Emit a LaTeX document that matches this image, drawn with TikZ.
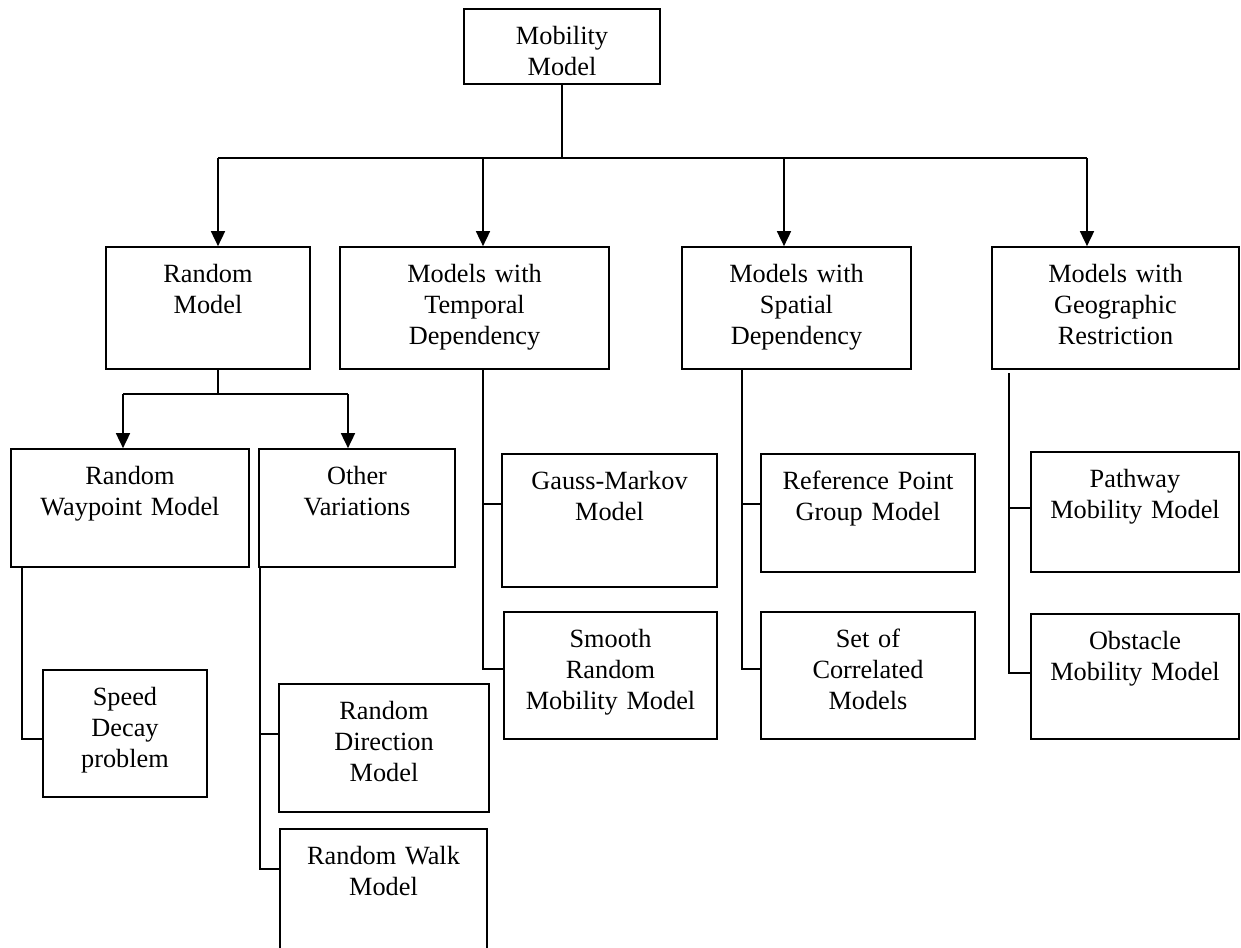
\documentclass[tikz,border=0pt]{standalone}
\usepackage{fontspec}
\setmainfont{Liberation Serif}
\usetikzlibrary{arrows.meta}
\begin{document}
\begin{tikzpicture}[x=1pt,y=-1pt,
  box/.style={draw=black, line width=1.7pt, inner sep=0pt, rectangle},
  lbl/.style={anchor=base, align=center, text width=210pt, inner sep=0pt, font=\fontsize{26.3}{31}\selectfont},
  conn/.style={line width=1.7pt},
  arr/.style={line width=1.7pt, -{Triangle[width=14pt,length=15pt]}}]
\fill[white] (0,0) rectangle (1241,947);
\useasboundingbox (0,0) rectangle (1241,947);

% boxes
\node[box, minimum width=196pt, minimum height=75pt]  (mm)  at (562,46.5) {};
\node[box, minimum width=204pt, minimum height=122pt] (rm)  at (208,308) {};
\node[box, minimum width=269pt, minimum height=122pt] (tmp) at (474.5,308) {};
\node[box, minimum width=229pt, minimum height=122pt] (spa) at (796.5,308) {};
\node[box, minimum width=247pt, minimum height=122pt] (geo) at (1115.5,308) {};
\node[box, minimum width=238pt, minimum height=118pt] (rwp) at (130,508) {};
\node[box, minimum width=196pt, minimum height=118pt] (ov)  at (357,508) {};
\node[box, minimum width=164pt, minimum height=127pt] (sd)  at (125,733.5) {};
\node[box, minimum width=210pt, minimum height=128pt] (rd)  at (384,748) {};
\node[box, minimum width=207pt, minimum height=136pt] (rw)  at (383.5,897) {};
\node[box, minimum width=215pt, minimum height=133pt] (gm)  at (609.5,520.5) {};
\node[box, minimum width=213pt, minimum height=127pt] (sr)  at (610.5,675.5) {};
\node[box, minimum width=214pt, minimum height=118pt] (rpg) at (868,513) {};
\node[box, minimum width=214pt, minimum height=127pt] (sc)  at (868,675.5) {};
\node[box, minimum width=208pt, minimum height=120pt] (pw)  at (1135,512) {};
\node[box, minimum width=208pt, minimum height=125pt] (ob)  at (1135,676.5) {};

% labels
\node[lbl] (mm-t)  at ([yshift=-36pt]mm.north)  {Mobility\\Model};
\node[lbl] (rm-t)  at ([yshift=-36pt]rm.north)  {Random\\Model};
\node[lbl] (tmp-t) at ([yshift=-36pt]tmp.north) {Models with\\Temporal\\Dependency};
\node[lbl] (spa-t) at ([yshift=-36pt]spa.north) {Models with\\Spatial\\Dependency};
\node[lbl] (geo-t) at ([yshift=-36pt]geo.north) {Models with\\Geographic\\Restriction};
\node[lbl] (rwp-t) at ([yshift=-36pt]rwp.north) {Random\\Waypoint Model};
\node[lbl] (ov-t)  at ([yshift=-36pt]ov.north)  {Other\\Variations};
\node[lbl] (sd-t)  at ([yshift=-36pt]sd.north)  {Speed\\Decay\\problem};
\node[lbl] (rd-t)  at ([yshift=-36pt]rd.north)  {Random\\Direction\\Model};
\node[lbl] (rw-t)  at ([yshift=-36pt]rw.north)  {Random Walk\\Model};
\node[lbl] (gm-t)  at ([yshift=-36pt]gm.north)  {Gauss-Markov\\Model};
\node[lbl] (sr-t)  at ([yshift=-36pt]sr.north)  {Smooth\\Random\\Mobility Model};
\node[lbl] (rpg-t) at ([yshift=-36pt]rpg.north) {Reference Point\\Group Model};
\node[lbl] (sc-t)  at ([yshift=-36pt]sc.north)  {Set of\\Correlated\\Models};
\node[lbl] (pw-t)  at ([yshift=-36pt]pw.north)  {Pathway\\Mobility Model};
\node[lbl] (ob-t)  at ([yshift=-36pt]ob.north)  {Obstacle\\Mobility Model};

% junction coordinates
\coordinate (bus) at (562,158);
\coordinate (b1) at (218,158);
\coordinate (b2) at (483,158);
\coordinate (b3) at (784,158);
\coordinate (b4) at (1087,158);
\coordinate (j1) at (218,394);
\coordinate (j1l) at (123,394);
\coordinate (j1r) at (348,394);
\coordinate (w1) at (22,739);
\coordinate (o1) at (260,734);
\coordinate (o2) at (260,869);
\coordinate (t1) at (483,504);
\coordinate (t2) at (483,669);
\coordinate (s1) at (742,504);
\coordinate (s2) at (742,669);
\coordinate (g0) at (1009,373);
\coordinate (g1) at (1009,508);
\coordinate (g2) at (1009,673);

% top level
\draw[conn] (mm.south) -- (bus);
\draw[conn] (b1) -- (b4);
\draw[arr] (b1) -- (b1 |- rm.north);
\draw[arr] (b2) -- (b2 |- tmp.north);
\draw[arr] (b3) -- (b3 |- spa.north);
\draw[arr] (b4) -- (b4 |- geo.north);

% random model
\draw[conn] (j1 |- rm.south) -- (j1);
\draw[conn] (j1l) -- (j1r);
\draw[arr] (j1l) -- (j1l |- rwp.north);
\draw[arr] (j1r) -- (j1r |- ov.north);
\draw[conn] (w1 |- rwp.south) -- (w1) -- (w1 -| sd.west);
\draw[conn] (o1 |- ov.south) -- (o2) -- (o2 -| rw.west);
\draw[conn] (o1) -- (o1 -| rd.west);

% temporal
\draw[conn] (t1 |- tmp.south) -- (t2) -- (t2 -| sr.west);
\draw[conn] (t1) -- (t1 -| gm.west);

% spatial
\draw[conn] (s1 |- spa.south) -- (s2) -- (s2 -| sc.west);
\draw[conn] (s1) -- (s1 -| rpg.west);

% geographic
\draw[conn] (g0) -- (g2) -- (g2 -| ob.west);
\draw[conn] (g1) -- (g1 -| pw.west);
\end{tikzpicture}
\end{document}
